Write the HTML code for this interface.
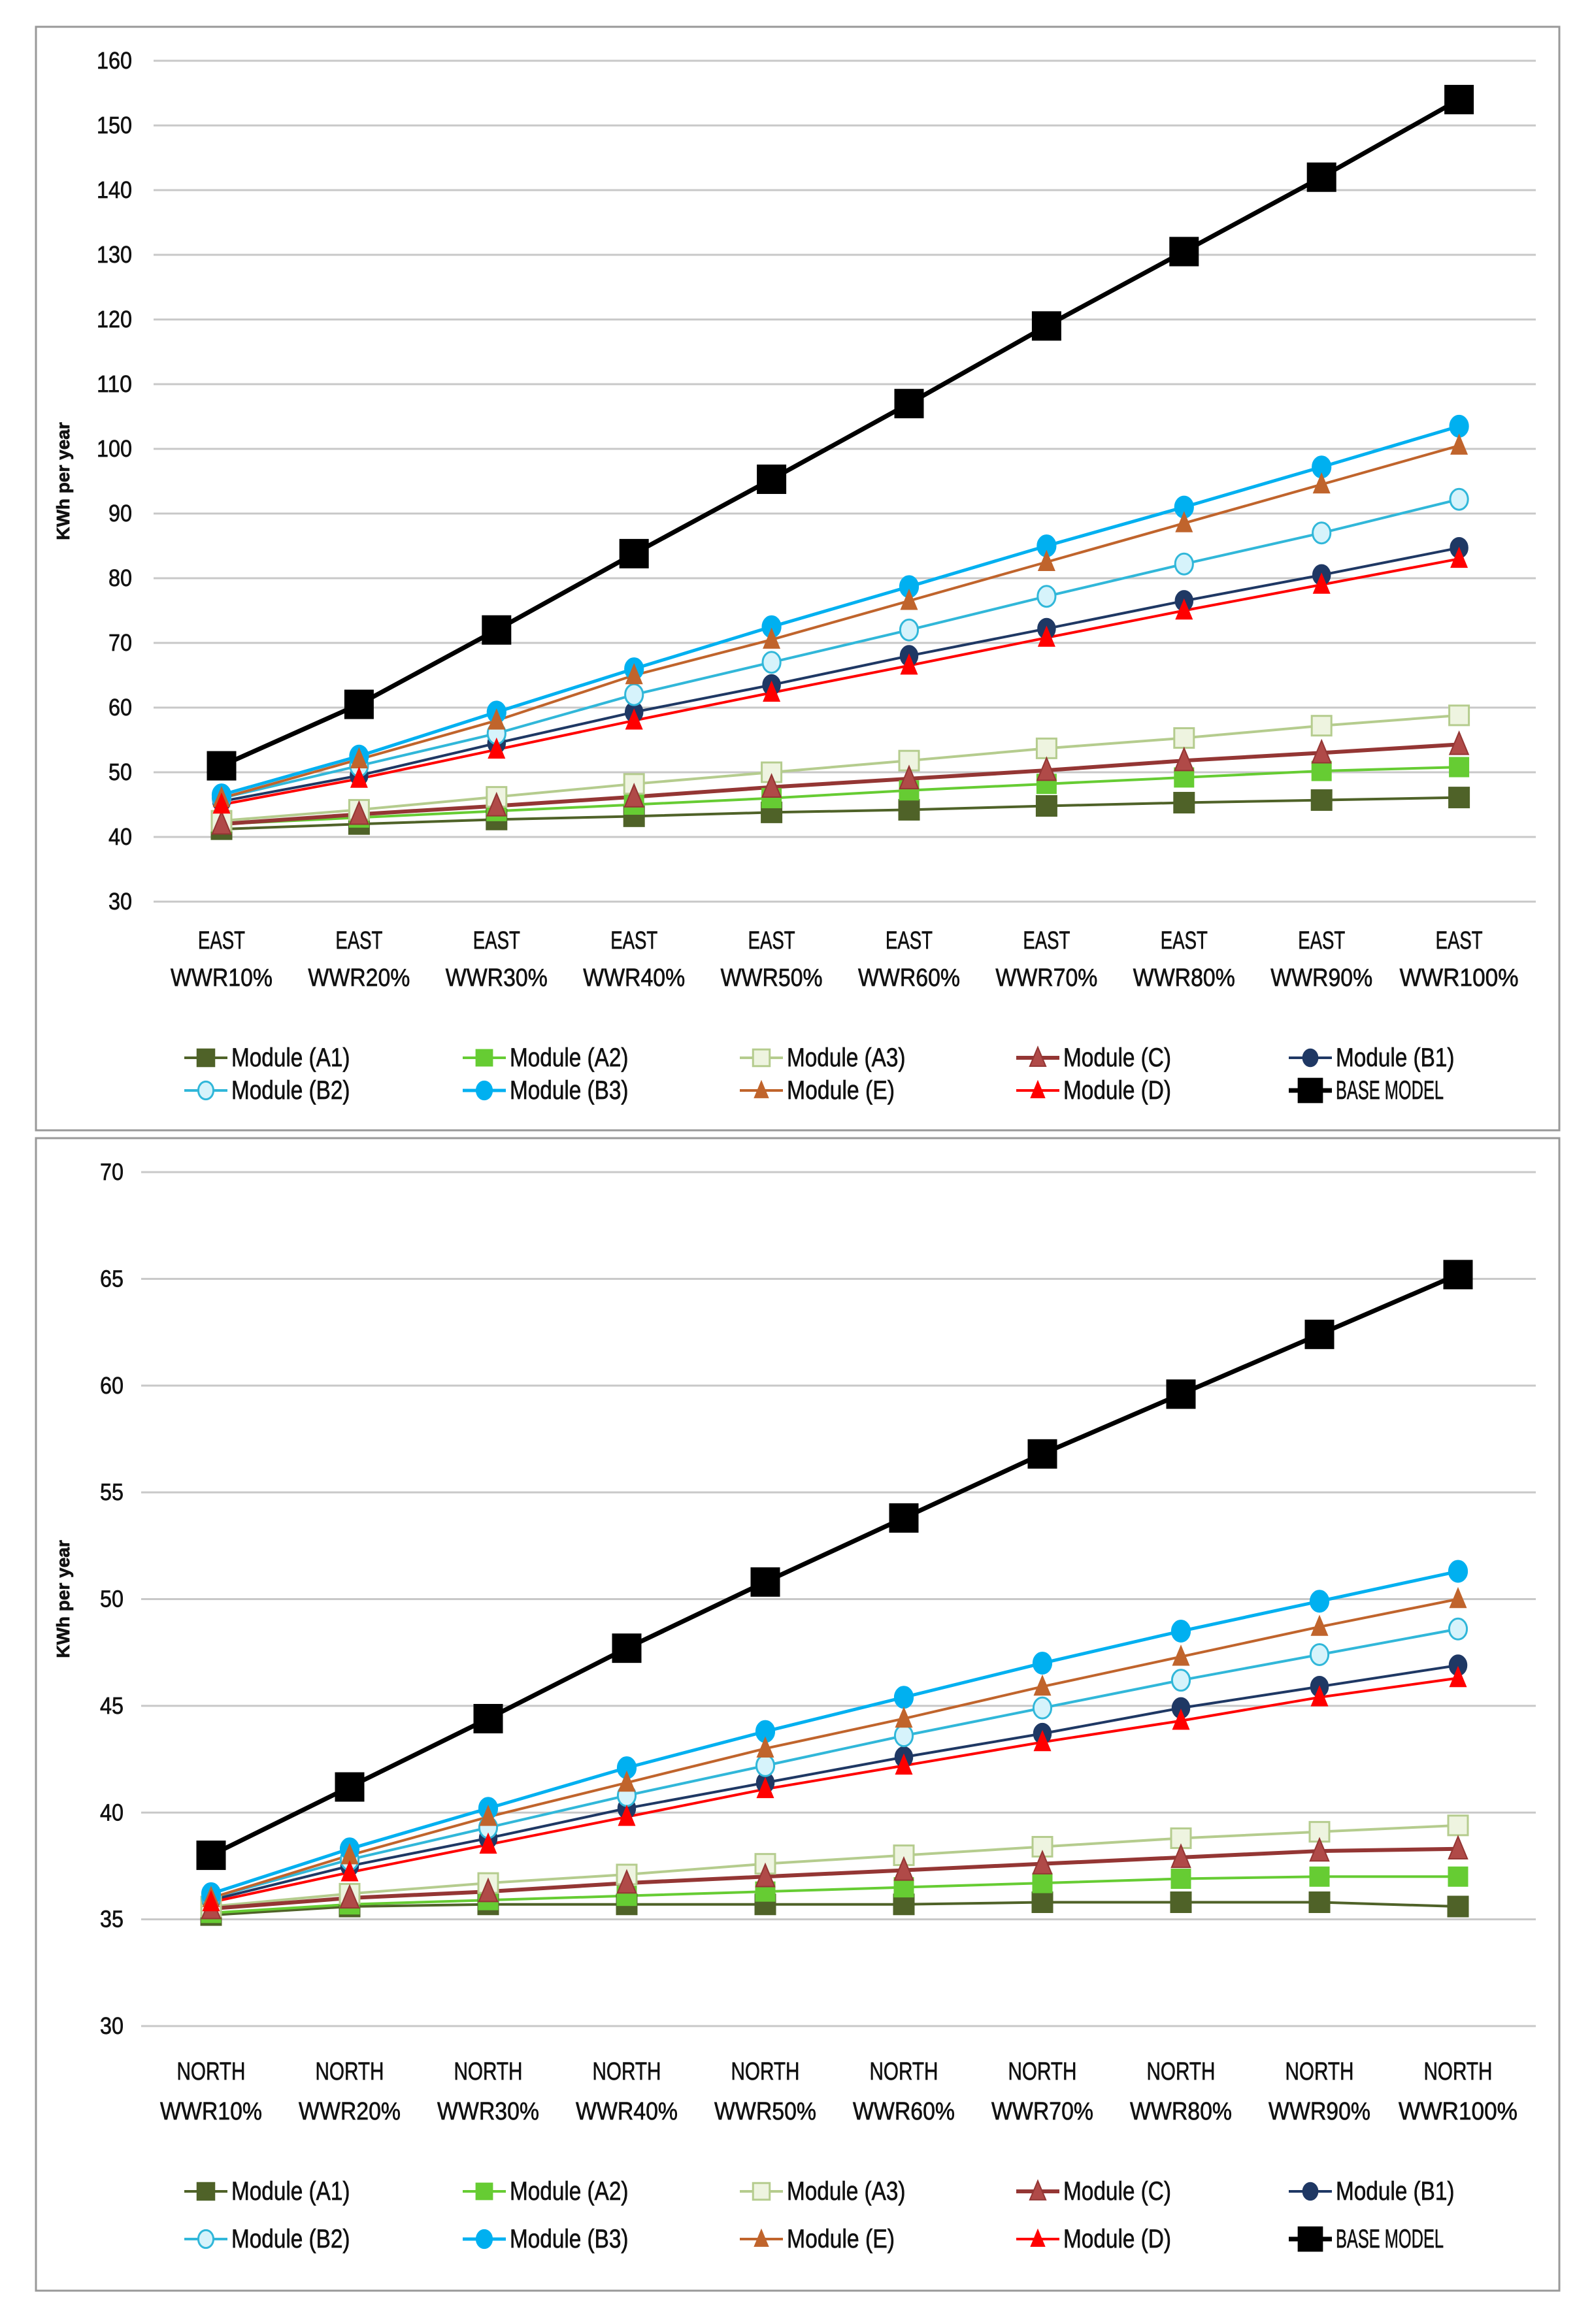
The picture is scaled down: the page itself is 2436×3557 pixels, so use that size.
<!DOCTYPE html>
<html><head><meta charset="utf-8"><style>
html,body{margin:0;padding:0;background:#fff;width:2436px;height:3557px;overflow:hidden}
svg{display:block}
text{font-family:"Liberation Sans Narrow","Liberation Sans",sans-serif;fill:#111;stroke:#111;stroke-width:0.7}
</style></head><body>
<svg id="s" width="2436" height="3557" xmlns="http://www.w3.org/2000/svg"></svg>
<script>
(function(){
const S=document.getElementById('s');let h='';
const series=[
 {n:'Module (A1)',c:'#4f6228',m:'sq',f:'#4f6228',sz:30,w:4},
 {n:'Module (A2)',c:'#66cc33',m:'sq',f:'#66cc33',sz:28,w:4},
 {n:'Module (A3)',c:'#b5cc8e',m:'sq',f:'#eef4e0',sz:30,w:4},
 {n:'Module (C)',c:'#943634',m:'tri',f:'#b04a48',sz:38,w:6},
 {n:'Module (B1)',c:'#1f3864',m:'ci',f:'#1f3864',sz:30,w:4},
 {n:'Module (B2)',c:'#31b7d9',m:'ci',f:'#d6f3fb',sz:32,w:4},
 {n:'Module (B3)',c:'#00b0f0',m:'ci',f:'#00b0f0',sz:32,w:5},
 {n:'Module (E)',c:'#c0642c',m:'tri',f:'#c0642c',sz:32,w:4},
 {n:'Module (D)',c:'#ff0000',m:'tri',f:'#ff0000',sz:32,w:4},
 {n:'BASE MODEL',c:'#000',m:'sq',f:'#000',sz:42,w:7}
];
const dTop=[
[41.2,42,42.7,43.2,43.8,44.2,44.8,45.3,45.7,46.1],
[42,43,44,45,46,47.2,48.2,49.2,50.2,50.8],
[42.5,44.2,46.2,48.2,50,51.8,53.7,55.3,57.2,58.8],
[42,43.5,44.8,46.2,47.7,49,50.3,51.8,53,54.3],
[45.5,49.5,54.5,59.3,63.5,68,72.2,76.5,80.5,84.7],
[46,51,56,62,67,72,77.2,82.2,87,92.2],
[46.5,52.5,59.3,66,72.5,78.7,85,91,97.2,103.5],
[46,52,58,65,70.5,76.5,82.5,88.5,94.5,100.5],
[45,49,53.5,58,62.3,66.5,70.8,75,79,83],
[51,60.5,72,83.8,95.3,107,119,130.5,142,154]];
const dBot=[
[35.2,35.6,35.7,35.7,35.7,35.7,35.8,35.8,35.8,35.6],
[35.3,35.7,35.9,36.1,36.3,36.5,36.7,36.9,37,37],
[35.6,36.2,36.7,37.1,37.6,38,38.4,38.8,39.1,39.4],
[35.5,36,36.3,36.7,37,37.3,37.6,37.9,38.2,38.3],
[35.9,37.5,38.8,40.2,41.4,42.6,43.7,44.9,45.9,46.9],
[36,37.8,39.3,40.8,42.2,43.6,44.9,46.2,47.4,48.6],
[36.2,38.3,40.2,42.1,43.8,45.4,47,48.5,49.9,51.3],
[36,38,39.8,41.4,43,44.4,45.9,47.3,48.7,50],
[35.8,37.2,38.5,39.8,41.1,42.2,43.3,44.3,45.4,46.3],
[38,41.2,44.4,47.7,50.8,53.8,56.8,59.6,62.4,65.2]];
function mk(s,x,y,sc){const z=s.sz*(sc||1),r=z/2;
 if(s.m=='sq')return `<rect x="${x-r}" y="${y-r}" width="${z}" height="${z}" fill="${s.f}" stroke="${s.c}" stroke-width="3"/>`;
 if(s.m=='ci')return `<ellipse cx="${x}" cy="${y}" rx="${r*0.85}" ry="${r}" fill="${s.f}" stroke="${s.c}" stroke-width="3"/>`;
 return `<polygon points="${x},${y-r} ${x+r*0.75},${y+r*0.8} ${x-r*0.75},${y+r*0.8}" fill="${s.f}" stroke="${s.c}" stroke-width="2"/>`;}
function T(x,y,fs,anchor,str,len){return `<text x="${x}" y="${y}" font-size="${fs}" text-anchor="${anchor}"${len?` textLength="${len}" lengthAdjust="spacingAndGlyphs"`:''}>${str}</text>`;}
function chart(o){
 h+=`<rect x="${o.fx}" y="${o.fy}" width="${o.fw}" height="${o.fh}" fill="#fff" stroke="#999" stroke-width="3"/>`;
 const Y=v=>o.y0+(v-o.v0)*(o.y1-o.y0)/(o.v1-o.v0);
 for(let v=o.v1;v<=o.v0;v+=o.st){const y=Y(v);
  h+=`<line x1="${o.gx0}" x2="2350" y1="${y}" y2="${y}" stroke="#c8c8c8" stroke-width="3"/>`;
  h+=T(o.lx,y+12,36,'end',v,String(v).length*18);}
 const X=i=>o.cx0+i*o.dx;
 for(let i=0;i<10;i++){const w=`WWR${(i+1)*10}%`;h+=T(X(i),o.ty1,38,'middle',o.dir,o.dir.length*o.dw)+T(X(i),o.ty2,38,'middle',w,w.length*26);}
 h+=`<text transform="translate(${o.ax},${(o.y0+o.y1)/2}) rotate(-90)" font-size="28" font-weight="bold" text-anchor="middle" style="font-family:'Liberation Sans',sans-serif">KWh per year</text>`;
 o.d.forEach((d,k)=>{const s=series[k];h+=`<polyline fill="none" stroke="${s.c}" stroke-width="${s.w}" points="${d.map((v,i)=>X(i)+','+Y(v)).join(' ')}"/>`;});
 o.d.forEach((d,k)=>{const s=series[k];d.forEach((v,i)=>h+=mk(s,X(i),Y(v)));});
 const lx=[282,708,1132,1555,1972];
 series.forEach((s,k)=>{const c=k%5,r=Math.floor(k/5);const x=lx[c],y=r?o.ly2:o.ly1;
  h+=`<line x1="${x}" x2="${x+66}" y1="${y}" y2="${y}" stroke="${s.c}" stroke-width="${s.w}"/>`+mk(s,x+33,y,0.85);
  h+=T(x+72,y+13,40,'start',s.n,s.n.length*16.5);});
}
chart({fx:55,fy:41,fw:2331,fh:1689,v0:160,v1:30,y0:93,y1:1380,st:10,gx0:235,lx:202,cx0:339,dx:210.4,dir:'EAST',dw:18,ty1:1452,ty2:1509,ax:106,ly1:1619,ly2:1669,d:dTop});
chart({fx:55,fy:1742,fw:2331,fh:1764,v0:70,v1:30,y0:1794,y1:3101,st:5,gx0:216,lx:189,cx0:323,dx:212,dir:'NORTH',dw:21,ty1:3183,ty2:3244,ax:106,ly1:3354,ly2:3427,d:dBot});
S.innerHTML=h;
})();
</script>
</body></html>
